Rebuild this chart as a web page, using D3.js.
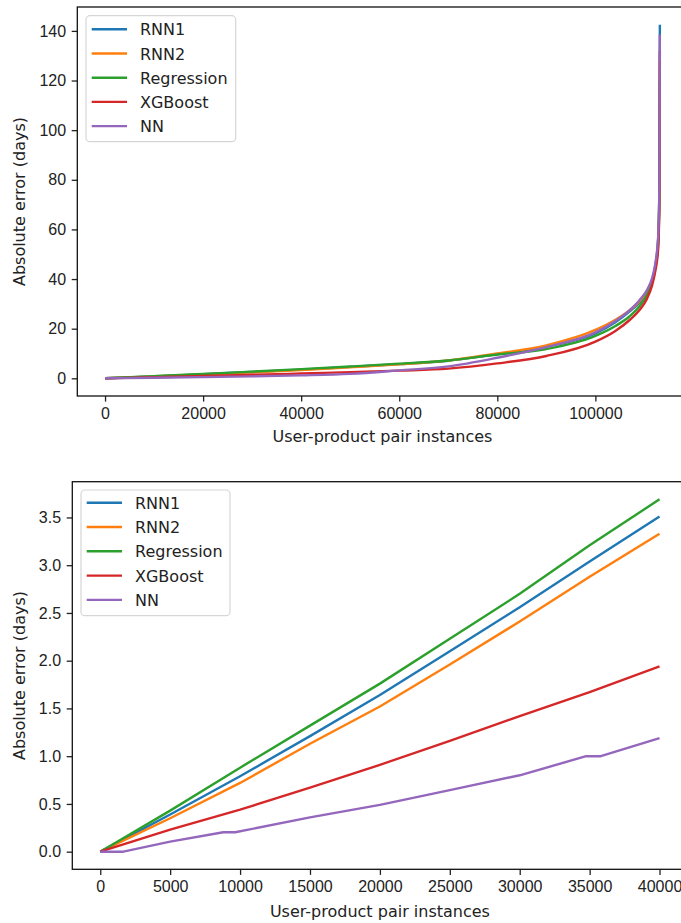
<!DOCTYPE html>
<html>
<head>
<meta charset="utf-8">
<script src="https://cdn.jsdelivr.net/npm/d3@7"></script>
<style>
  body { margin: 0; background: #fff; }
  svg { display: block; font-family: "DejaVu Sans", sans-serif; }
  .tick text { font-size: 16px; fill: #222; }
  .tick line { stroke: #222; stroke-width: 1.3; }
  .axis-label { font-size: 16px; fill: #222; }
  .legend text { font-size: 16px; fill: #222; }
</style>
</head>
<body>
<svg id="chart" width="681" height="923"></svg>
<script>
// series names and colours (matplotlib tab10)
var seriesNames = ['RNN1', 'RNN2', 'Regression', 'XGBoost', 'NN'];
var seriesColors = ['#1f77b4', '#ff7f0e', '#2ca02c', '#d62728', '#9467bd'];

// top panel: sorted absolute error over all instances
var topX = [0, 10000, 20000, 30000, 40000, 50000, 60000, 70000, 80000, 90000, 100000, 104000, 107000, 109000, 110500, 111500, 112200, 112800, 113050, 113150];
var topRnn1 = [0, 0.79, 1.64, 2.56, 3.51, 4.6, 5.7, 7.1, 9.7, 12.8, 18.1, 22.5, 27, 30.5, 34.5, 39, 45, 56, 76, 142.5];
var topRnn2 = [0, 0.72, 1.52, 2.41, 3.33, 4.4, 5.6, 7.2, 10.0, 13.3, 19.5, 23.5, 27.5, 31, 35, 39, 45, 55, 75, 128];
var topRegression = [0, 0.88, 1.76, 2.70, 3.69, 4.75, 5.9, 7.2, 9.6, 11.8, 17.1, 21, 25, 29, 33.5, 38, 44, 54, 72, 120];
var topXgboost = [0, 0.44, 0.91, 1.42, 1.94, 2.5, 3.1, 3.9, 6.0, 9.0, 14.8, 19, 23.5, 27.5, 32, 37, 43, 52, 70, 132];
var topNn = [0, 0.21, 0.49, 0.80, 1.19, 1.8, 3.2, 4.8, 8.3, 12.6, 18.5, 23, 27.5, 31.5, 35.5, 40, 46, 57, 78, 138.4];
var topXTicks = [0, 20000, 40000, 60000, 80000, 100000];
var topYTicks = [0, 20, 40, 60, 80, 100, 120, 140];

// bottom panel: first 40000 instances
var bottomX = [0, 5000, 10000, 15000, 20000, 25000, 30000, 35000, 40000];
var bottomRnn1 = [0, 0.39, 0.79, 1.21, 1.64, 2.10, 2.56, 3.04, 3.51];
var bottomRnn2 = [0, 0.35, 0.72, 1.13, 1.52, 1.96, 2.41, 2.88, 3.33];
var bottomRegression = [0, 0.43, 0.88, 1.32, 1.76, 2.23, 2.70, 3.21, 3.69];
var bottomXgboost = [0, 0.23, 0.44, 0.67, 0.91, 1.16, 1.42, 1.67, 1.94];
var bottomNnX = [0, 1650, 5000, 8800, 9650, 15000, 20000, 25000, 30000, 34750, 35800, 40000];
var bottomNn = [0, 0, 0.105, 0.203, 0.203, 0.36, 0.49, 0.645, 0.80, 1.0, 1.0, 1.19];
var bottomXTicks = [0, 5000, 10000, 15000, 20000, 25000, 30000, 35000, 40000];
var bottomYTicks = [0, 0.5, 1.0, 1.5, 2.0, 2.5, 3.0, 3.5];

var svg = d3.select('#chart');

function zip(xs, ys) {
    return xs.map(function(x, i) { return { x: x, y: ys[i] }; });
}

// matplotlib style 5% padding on both sides
function padded(lo, hi) {
    var m = (hi - lo) * 0.05;
    return [lo - m, hi + m];
}

function drawPanel(cfg) {
    var x = d3.scaleLinear().domain(padded(cfg.xMin, cfg.xMax)).range([cfg.left, cfg.right]);
    var y = d3.scaleLinear().domain(padded(cfg.yMin, cfg.yMax)).range([cfg.bottom, cfg.top]);
    var g = svg.append('g');

    var clipId = 'clip-' + cfg.id;
    g.append('clipPath').attr('id', clipId)
        .append('rect')
        .attr('x', cfg.left).attr('y', cfg.top)
        .attr('width', cfg.right - cfg.left).attr('height', cfg.bottom - cfg.top);

    var line = d3.line()
        .x(function(d) { return x(d.x); })
        .y(function(d) { return y(d.y); })
        .curve(cfg.curve);

    g.append('g').attr('clip-path', 'url(#' + clipId + ')')
        .selectAll('path')
        .data(cfg.series)
        .enter().append('path')
        .attr('d', function(d) { return line(d); })
        .attr('fill', 'none')
        .attr('stroke', function(d, i) { return seriesColors[i]; })
        .attr('stroke-width', 2.4)
        .attr('stroke-linejoin', 'round')
        .attr('stroke-linecap', 'butt');

    g.append('g')
        .attr('transform', 'translate(0,' + cfg.bottom + ')')
        .call(d3.axisBottom(x).tickValues(cfg.xTicks).tickFormat(d3.format('d'))
            .tickSize(5.6).tickPadding(5.6).tickSizeOuter(0))
        .call(function(a) { a.select('.domain').remove(); });

    g.append('g')
        .attr('transform', 'translate(' + cfg.left + ',0)')
        .call(d3.axisLeft(y).tickValues(cfg.yTicks).tickFormat(d3.format(cfg.yFormat))
            .tickSize(5.6).tickPadding(5.6).tickSizeOuter(0))
        .call(function(a) { a.select('.domain').remove(); });

    g.selectAll('.tick text').attr('font-family', null).attr('font-size', null);

    // spines
    g.append('rect')
        .attr('x', cfg.left).attr('y', cfg.top)
        .attr('width', cfg.right - cfg.left).attr('height', cfg.bottom - cfg.top)
        .attr('fill', 'none').attr('stroke', '#111').attr('stroke-width', 1.3);

    g.append('text')
        .attr('class', 'axis-label')
        .attr('text-anchor', 'middle')
        .attr('x', (cfg.left + cfg.right) / 2)
        .attr('y', cfg.xLabelY)
        .text('User-product pair instances');

    g.append('text')
        .attr('class', 'axis-label')
        .attr('text-anchor', 'middle')
        .attr('transform', 'translate(' + cfg.yLabelX + ',' + ((cfg.top + cfg.bottom) / 2) + ') rotate(-90)')
        .text('Absolute error (days)');

    // legend
    var lg = g.append('g').attr('class', 'legend');
    lg.append('rect')
        .attr('x', cfg.legend.x).attr('y', cfg.legend.y)
        .attr('width', cfg.legend.w).attr('height', cfg.legend.h)
        .attr('rx', 4).attr('ry', 4)
        .attr('fill', 'rgba(255,255,255,0.8)')
        .attr('stroke', '#d6d6d6').attr('stroke-width', 1.2);

    var rows = lg.selectAll('.row')
        .data(seriesNames)
        .enter().append('g')
        .attr('class', 'row')
        .attr('transform', function(d, i) { return 'translate(0,' + (cfg.legend.firstRow + i * cfg.legend.step) + ')'; });

    rows.append('line')
        .attr('x1', cfg.legend.x + 5.7).attr('x2', cfg.legend.x + 41)
        .attr('y1', 0).attr('y2', 0)
        .attr('stroke', function(d, i) { return seriesColors[i]; })
        .attr('stroke-width', 2.4);

    rows.append('text')
        .attr('x', cfg.legend.x + 54)
        .attr('y', 6)
        .text(function(d) { return d; });
}

drawPanel({
    id: 'top',
    left: 77.3, right: 687.6, top: 7, bottom: 396,
    xMin: 0, xMax: 113150, yMin: 0, yMax: 142.5,
    xTicks: topXTicks, yTicks: topYTicks, yFormat: 'd',
    xLabelY: 442, yLabelX: 25,
    curve: d3.curveMonotoneX,
    series: [zip(topX, topRnn1), zip(topX, topRnn2), zip(topX, topRegression), zip(topX, topXgboost), zip(topX, topNn)],
    legend: { x: 86, y: 15.7, w: 149.7, h: 126, firstRow: 29.3, step: 24.2 }
});

drawPanel({
    id: 'bottom',
    left: 72.3, right: 687.5, top: 481.7, bottom: 869.3,
    xMin: 0, xMax: 40000, yMin: 0, yMax: 3.69,
    xTicks: bottomXTicks, yTicks: bottomYTicks, yFormat: '.1f',
    xLabelY: 916.5, yLabelX: 25,
    curve: d3.curveLinear,
    series: [zip(bottomX, bottomRnn1), zip(bottomX, bottomRnn2), zip(bottomX, bottomRegression), zip(bottomX, bottomXgboost), zip(bottomNnX, bottomNn)],
    legend: { x: 81, y: 490, w: 149, h: 125.7, firstRow: 502.7, step: 24.3 }
});
</script>
</body>
</html>
